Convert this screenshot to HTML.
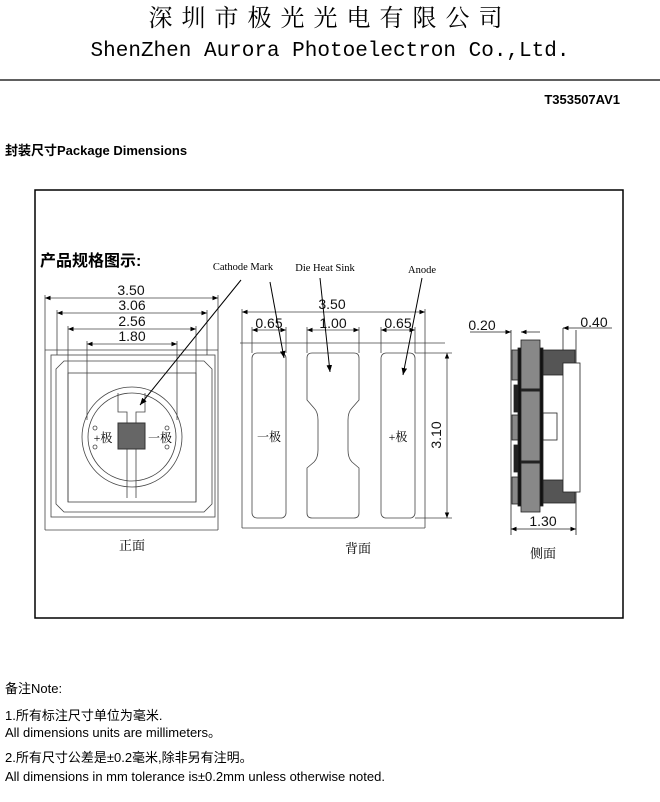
<!DOCTYPE html>
<html><head><meta charset="utf-8"><style>
body{margin:0;background:#fff;width:660px;height:802px;overflow:hidden}
svg{display:block}
.s{font-family:"Liberation Sans","Noto Sans CJK SC",sans-serif}
.r{font-family:"Liberation Serif","Noto Serif CJK SC",serif}
</style></head><body>
<svg width="660" height="802" viewBox="0 0 660 802">
<defs><marker id="a" viewBox="0 0 10 10" refX="10" refY="5" markerWidth="7" markerHeight="7" orient="auto-start-reverse"><path d="M0,1 L10,5 L0,9z" fill="#000"/></marker></defs>
<text x="330" y="26" text-anchor="middle" class="r" font-size="24" letter-spacing="9">深圳市极光光电有限公司</text>
<text x="330" y="56" text-anchor="middle" font-family="Liberation Mono,monospace" font-size="21">ShenZhen Aurora Photoelectron Co.,Ltd.</text>
<line x1="0" y1="80" x2="660" y2="80" stroke="#000" stroke-width="1.2"/>
<text x="620" y="104" text-anchor="end" class="s" font-size="13" font-weight="bold">T353507AV1</text>
<text x="5" y="155" class="s" font-size="13" font-weight="bold">封装尺寸Package Dimensions</text>
<rect x="35" y="190" width="588" height="428" fill="none" stroke="#000" stroke-width="1.5"/>
<text x="40" y="266" class="s" font-size="16" font-weight="bold">产品规格图示:</text>
<g stroke="#444" stroke-width="0.8" fill="none">
<line x1="45" y1="298" x2="218" y2="298" marker-start="url(#a)" marker-end="url(#a)"/>
<line x1="57" y1="313" x2="207" y2="313" marker-start="url(#a)" marker-end="url(#a)"/>
<line x1="68" y1="329" x2="196" y2="329" marker-start="url(#a)" marker-end="url(#a)"/>
<line x1="87" y1="344" x2="177" y2="344" marker-start="url(#a)" marker-end="url(#a)"/>
<line x1="45" y1="295" x2="45" y2="530"/><line x1="218" y1="295" x2="218" y2="530"/>
<line x1="57" y1="310" x2="57" y2="355"/><line x1="207" y1="310" x2="207" y2="355"/>
<line x1="68" y1="326" x2="68" y2="502"/><line x1="196" y1="326" x2="196" y2="502"/>
<line x1="87" y1="341" x2="87" y2="420"/><line x1="177" y1="341" x2="177" y2="420"/>
<line x1="45" y1="350" x2="218" y2="350"/><line x1="45" y1="530" x2="218" y2="530"/>
<rect x="51" y="355" width="164" height="162"/>
<path d="M64,361 H204 L212,369 V504 L204,512 H64 L56,504 V369 Z"/>
<rect x="68" y="373" width="128" height="129"/>
<circle cx="132" cy="437" r="50"/><circle cx="132" cy="437" r="44"/>
<path d="M118,393 V412 H127 V498 M136,498 V412 H145 V393"/>
<circle cx="95" cy="428" r="2"/><circle cx="95" cy="447" r="2"/><circle cx="167" cy="428" r="2"/><circle cx="167" cy="447" r="2"/>
<line x1="242" y1="312" x2="425" y2="312" marker-start="url(#a)" marker-end="url(#a)"/>
<line x1="242" y1="309" x2="242" y2="528"/><line x1="425" y1="309" x2="425" y2="528"/>
<line x1="240" y1="343" x2="445" y2="343"/><line x1="242" y1="528" x2="425" y2="528"/>
<line x1="252" y1="330" x2="286" y2="330" marker-start="url(#a)" marker-end="url(#a)"/>
<line x1="307" y1="330" x2="359" y2="330" marker-start="url(#a)" marker-end="url(#a)"/>
<line x1="381" y1="330" x2="415" y2="330" marker-start="url(#a)" marker-end="url(#a)"/>
<line x1="252" y1="327" x2="252" y2="353"/><line x1="286" y1="327" x2="286" y2="353"/>
<line x1="307" y1="327" x2="307" y2="353"/><line x1="359" y1="327" x2="359" y2="353"/>
<line x1="381" y1="327" x2="381" y2="353"/><line x1="415" y1="327" x2="415" y2="353"/>
<rect x="252" y="353" width="34" height="165" rx="5"/>
<rect x="381" y="353" width="34" height="165" rx="5"/>
<path d="M312,353 H354 Q359,353 359,358 V400 L352,408 Q348,412 348,420 V450 Q348,458 352,462 L359,468 V513 Q359,518 354,518 H312 Q307,518 307,513 V468 L314,462 Q318,458 318,450 V420 Q318,412 314,408 L307,400 V358 Q307,353 312,353Z"/>
<line x1="415" y1="353" x2="452" y2="353"/><line x1="415" y1="518" x2="452" y2="518"/>
<line x1="447" y1="353" x2="447" y2="518" marker-start="url(#a)" marker-end="url(#a)"/>
</g>
<g class="s" font-size="14" text-anchor="middle" fill="#111">
<text x="131" y="295">3.50</text><text x="132" y="310">3.06</text><text x="132" y="326">2.56</text><text x="132" y="341">1.80</text>
<text x="332" y="309">3.50</text><text x="269" y="328">0.65</text><text x="333" y="328">1.00</text><text x="398" y="328">0.65</text>
<text transform="translate(441,435) rotate(-90)">3.10</text>
<text x="482" y="330">0.20</text><text x="594" y="327">0.40</text><text x="543" y="526">1.30</text>
</g>
<rect x="118" y="423" width="27" height="26" fill="#666" stroke="#333"/>
<g class="r" font-size="12" text-anchor="middle">
<text x="103" y="442">+极</text><text x="160" y="442">一极</text>
<text x="269" y="441">一极</text><text x="398" y="441">+极</text>
<text x="132" y="550" font-size="13">正面</text><text x="358" y="553" font-size="13">背面</text><text x="543" y="558" font-size="13">侧面</text>
<text x="243" y="270" font-size="10.5">Cathode Mark</text><text x="325" y="271" font-size="10.5">Die Heat Sink</text><text x="422" y="273" font-size="10.5">Anode</text>
</g>
<g stroke="#000" stroke-width="1">
<line x1="241" y1="280" x2="140" y2="405" marker-end="url(#a)"/>
<line x1="270" y1="282" x2="284" y2="358" marker-end="url(#a)"/>
<line x1="320" y1="278" x2="330" y2="372" marker-end="url(#a)"/>
<line x1="422" y1="278" x2="403" y2="375" marker-end="url(#a)"/>
</g>
<g stroke="#222" stroke-width="0.8">
<line x1="511" y1="330" x2="511" y2="535" fill="none"/>
<line x1="576" y1="330" x2="576" y2="535" fill="none"/>
<line x1="511" y1="529" x2="576" y2="529" marker-start="url(#a)" marker-end="url(#a)"/>
<line x1="470" y1="332" x2="511" y2="332" marker-end="url(#a)"/>
<line x1="521" y1="332" x2="540" y2="332" marker-start="url(#a)"/>
<line x1="563" y1="328" x2="563" y2="365"/>
<line x1="612" y1="328" x2="563" y2="328" marker-end="url(#a)"/>
<rect x="512" y="350" width="7" height="30" fill="#888"/>
<rect x="512" y="415" width="7" height="25" fill="#888"/>
<rect x="512" y="477" width="7" height="27" fill="#888"/>
<rect x="514" y="385" width="6" height="27" fill="#222"/>
<rect x="514" y="445" width="6" height="27" fill="#222"/>
<rect x="543" y="350" width="32" height="25" fill="#555"/>
<rect x="543" y="480" width="32" height="23" fill="#555"/>
<rect x="563" y="363" width="17" height="129" fill="#fff"/>
<rect x="543" y="413" width="14" height="27" fill="#fff"/>
<rect x="518" y="348" width="3" height="158" fill="#111"/>
<rect x="540" y="348" width="3" height="158" fill="#111"/>
<rect x="521" y="340" width="19" height="172" fill="#888"/>
<line x1="521" y1="390" x2="540" y2="390" stroke-width="3"/>
<line x1="521" y1="462" x2="540" y2="462" stroke-width="3"/>
</g>
<g class="s" font-size="13" fill="#000">
<text x="5" y="693">备注Note:</text>
<text x="5" y="720">1.所有标注尺寸单位为毫米.</text>
<text x="5" y="737">All dimensions units are millimeters。</text>
<text x="5" y="762">2.所有尺寸公差是±0.2毫米,除非另有注明。</text>
<text x="5" y="781">All dimensions in mm tolerance is±0.2mm unless otherwise noted.</text>
</g>
</svg>
</body></html>
